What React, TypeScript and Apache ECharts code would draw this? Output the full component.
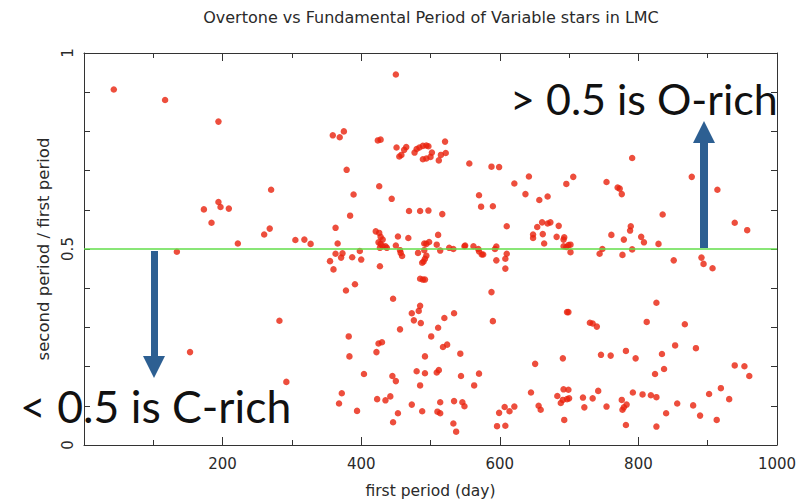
import React, { useEffect, useRef } from "react";
import * as echarts from "echarts";

const titleText = "Overtone vs Fundamental Period of Variable stars in LMC";
const xName = "first period (day)";
const yName = "second period / first period";
const xTickLabels = ["200", "400", "600", "800", "1000"];
const yTickLabels = ["0", "0.5", "1"];
const threshold = 0.5;
const noteUpper = "> 0.5 is O-rich";
const noteLower = "< 0.5 is C-rich";

// first period (day)
const firstPeriod = [
  43, 117, 194, 270, 194, 197, 173, 209, 184, 268, 260, 222, 305, 318, 327, 134, 282, 153, 292,
  450, 359, 369, 375, 424, 428, 451, 455, 458, 462, 465, 477, 480, 484, 489, 494, 497, 489, 494, 500, 502,
  512, 515, 522, 521, 556, 588, 599, 379, 426, 389, 444, 384, 469, 485, 497, 517, 621, 642, 637, 657,
  669, 570, 573, 590, 610, 363, 366, 421, 426, 453, 468, 511, 491, 498, 527, 533, 549, 562, 595, 648,
  654, 661, 669, 662, 664,
  363, 373, 371, 355, 360, 387, 398, 400, 378, 391, 428, 431, 425, 428, 431, 435, 437, 427, 427, 450,
  456, 457, 459, 482, 494, 491, 494, 492, 490, 488, 485, 489, 492, 509, 514, 446,
  550, 569, 570, 574, 576, 593, 610, 608, 595, 608, 588, 673, 648, 685, 682, 693, 692, 692, 696, 699,
  702, 702, 748, 744, 761,
  779, 788, 789, 804, 808, 791, 777, 829, 835, 851, 891, 894, 907, 939, 957,
  791, 706, 696, 754, 770, 773, 776, 877, 914,
  697, 699, 730, 734, 740, 826, 812, 867, 853, 883, 651, 691, 746, 760, 782, 796, 834, 837, 824, 939,
  953, 960, 645, 692, 699, 683, 691, 688, 697, 700, 656, 659, 693, 720, 722, 734, 742, 754, 776, 783,
  779, 777, 782, 792, 806, 818, 826, 826, 840, 856, 879, 889, 902, 919, 931, 913,
  590, 485, 483, 473, 476, 486, 520, 534, 511, 456, 501, 382, 425, 430, 422, 383, 492, 518, 524, 543,
  404, 445, 450, 480, 492, 509, 512, 485, 544, 570, 563, 372, 368, 394, 423, 435, 442, 453, 446, 473,
  488, 514, 510, 514, 534, 546, 549, 533, 537, 599, 607, 614, 621, 596, 608
];

// second period / first period
const periodRatio = [
  0.907, 0.88, 0.825, 0.651, 0.62, 0.607, 0.601, 0.603, 0.567, 0.552, 0.537, 0.514, 0.523, 0.524, 0.513, 0.493, 0.317, 0.237, 0.161,
  0.945, 0.79, 0.785, 0.8, 0.777, 0.779, 0.759, 0.736, 0.74, 0.753, 0.76, 0.746, 0.755, 0.759, 0.763, 0.764, 0.762, 0.729, 0.731, 0.735, 0.746,
  0.726, 0.74, 0.745, 0.774, 0.718, 0.71, 0.709, 0.702, 0.66, 0.639, 0.628, 0.585, 0.597, 0.597, 0.598, 0.589, 0.667, 0.685, 0.64, 0.625,
  0.634, 0.637, 0.608, 0.609, 0.558, 0.554, 0.514, 0.545, 0.541, 0.532, 0.528, 0.536, 0.514, 0.518, 0.503, 0.5, 0.507, 0.507, 0.506, 0.528,
  0.556, 0.568, 0.565, 0.538, 0.514,
  0.488, 0.489, 0.478, 0.469, 0.448, 0.479, 0.495, 0.473, 0.394, 0.41, 0.531, 0.524, 0.517, 0.513, 0.507, 0.507, 0.503, 0.503, 0.456, 0.509,
  0.497, 0.49, 0.482, 0.49, 0.513, 0.497, 0.483, 0.475, 0.468, 0.465, 0.424, 0.422, 0.422, 0.511, 0.496, 0.373,
  0.509, 0.5, 0.494, 0.486, 0.486, 0.5, 0.488, 0.475, 0.471, 0.45, 0.39, 0.568, 0.537, 0.559, 0.531, 0.53, 0.524, 0.507, 0.505, 0.51,
  0.511, 0.492, 0.5, 0.488, 0.536,
  0.524, 0.547, 0.558, 0.531, 0.517, 0.499, 0.485, 0.513, 0.588, 0.471, 0.478, 0.462, 0.451, 0.567, 0.548,
  0.732, 0.684, 0.666, 0.671, 0.657, 0.654, 0.64, 0.684, 0.651,
  0.339, 0.339, 0.312, 0.31, 0.302, 0.363, 0.314, 0.308, 0.254, 0.247, 0.207, 0.221, 0.23, 0.228, 0.24, 0.221, 0.232, 0.194, 0.181, 0.203,
  0.201, 0.176, 0.134, 0.142, 0.141, 0.125, 0.115, 0.107, 0.117, 0.119, 0.1, 0.09, 0.064, 0.121, 0.096, 0.119, 0.138, 0.098, 0.115, 0.103,
  0.096, 0.09, 0.051, 0.134, 0.129, 0.127, 0.122, 0.047, 0.081, 0.106, 0.101, 0.075, 0.13, 0.145, 0.117, 0.064,
  0.316, 0.355, 0.342, 0.336, 0.318, 0.311, 0.324, 0.336, 0.299, 0.295, 0.277, 0.277, 0.259, 0.262, 0.237, 0.226, 0.226, 0.25, 0.256, 0.233,
  0.181, 0.176, 0.163, 0.188, 0.183, 0.185, 0.191, 0.152, 0.176, 0.182, 0.152, 0.132, 0.106, 0.087, 0.117, 0.114, 0.124, 0.081, 0.058, 0.103,
  0.086, 0.109, 0.085, 0.081, 0.112, 0.109, 0.099, 0.055, 0.034, 0.082, 0.097, 0.086, 0.098, 0.048, 0.049
];

export default function App() {
  const ref = useRef<HTMLDivElement>(null);

  useEffect(() => {
    if (!ref.current) return;
    const chart = echarts.init(ref.current, null, { renderer: "svg" });
    const points = firstPeriod.map((x, i) => [x, periodRatio[i]]);
    const axisColor = "#333";
    const font = "'DejaVu Sans'";
    const labelStyle = { color: "#2a2a2a", fontFamily: font, fontSize: 15 };

    const arrowColor = "#2d5f92";

    chart.setOption({
      animation: false,
      backgroundColor: "#ffffff",
      grid: { left: 84, right: 30, top: 53, bottom: 58, containLabel: false },
      xAxis: [
        {
          type: "value",
          min: 0,
          max: 1000,
          interval: 200,
          position: "bottom",
          name: xName,
          nameLocation: "middle",
          nameGap: 38,
          nameTextStyle: { ...labelStyle, fontSize: 15.5 },
          axisLine: { show: true, onZero: false, lineStyle: { color: axisColor, width: 1 } },
          axisTick: { show: true, inside: true, length: 8, lineStyle: { color: axisColor } },
          minorTick: { show: true, splitNumber: 2, length: 5, lineStyle: { color: axisColor } },
          splitLine: { show: false },
          axisLabel: {
            ...labelStyle,
            margin: 11,
            formatter: (v: number) => (xTickLabels.includes(String(v)) ? String(v) : ""),
          },
        },
        {
          type: "value",
          min: 0,
          max: 1000,
          interval: 200,
          position: "top",
          axisLine: { show: true, onZero: false, lineStyle: { color: axisColor, width: 1 } },
          axisTick: { show: true, inside: true, length: 8, lineStyle: { color: axisColor } },
          minorTick: { show: true, splitNumber: 2, length: 5, lineStyle: { color: axisColor } },
          splitLine: { show: false },
          axisLabel: { show: false },
        },
      ],
      yAxis: [
        {
          type: "value",
          min: 0,
          max: 1,
          interval: 0.5,
          position: "left",
          name: yName,
          nameLocation: "middle",
          nameGap: 32,
          nameTextStyle: { ...labelStyle, fontSize: 16.5 },
          axisLine: { show: true, onZero: false, lineStyle: { color: axisColor, width: 1 } },
          axisTick: { show: true, inside: true, length: 6, lineStyle: { color: axisColor } },
          minorTick: { show: true, splitNumber: 5, length: 6, lineStyle: { color: axisColor } },
          splitLine: { show: false },
          axisLabel: {
            ...labelStyle,
            rotate: 90,
            margin: 9,
            formatter: (v: number) => {
              const s = String(v);
              return yTickLabels.includes(s) ? s : "";
            },
          },
        },
        {
          type: "value",
          min: 0,
          max: 1,
          interval: 0.5,
          position: "right",
          axisLine: { show: true, onZero: false, lineStyle: { color: axisColor, width: 1 } },
          axisTick: { show: true, inside: true, length: 6, lineStyle: { color: axisColor } },
          minorTick: { show: true, splitNumber: 5, length: 6, lineStyle: { color: axisColor } },
          splitLine: { show: false },
          axisLabel: { show: false },
        },
      ],
      series: [
        {
          type: "scatter",
          xAxisIndex: 0,
          yAxisIndex: 0,
          data: points,
          symbol: "circle",
          symbolSize: 6.5,
          itemStyle: { color: "#e8220c" },
          markLine: {
            silent: true,
            symbol: ["none", "none"],
            label: { show: false },
            lineStyle: { color: "#62de4a", width: 1.5, type: "solid" },
            data: [{ yAxis: threshold }],
          },
          z: 2,
        },
      ],
      graphic: [
        {
          type: "text",
          x: 431,
          y: 17,
          style: {
            text: titleText,
            fill: "#2a2a2a",
            fontFamily: font,
            fontSize: 16,
            textAlign: "center",
            textVerticalAlign: "middle",
          },
        },
        {
          type: "polygon",
          z: 10,
          shape: {
            points: [
              [700, 248], [700, 143], [693, 143], [704, 121], [715, 143], [708, 143], [708, 248],
            ],
          },
          style: { fill: arrowColor },
        },
        {
          type: "polygon",
          z: 10,
          shape: {
            points: [
              [151, 251], [158, 251], [158, 356], [165, 356], [154, 378], [143, 356], [151, 356],
            ],
          },
          style: { fill: arrowColor },
        },
        {
          type: "text",
          z: 11,
          x: 510,
          y: 98,
          style: {
            text: noteUpper,
            fill: "#111",
            fontFamily: "Lato",
            fontSize: 43,
            textAlign: "left",
            textVerticalAlign: "middle",
          },
        },
        {
          type: "text",
          z: 11,
          x: 20,
          y: 405,
          style: {
            text: noteLower,
            fill: "#111",
            fontFamily: "Lato",
            fontSize: 44.5,
            textAlign: "left",
            textVerticalAlign: "middle",
          },
        },
      ],
    });

    return () => chart.dispose();
  }, []);

  return (
    <div
      ref={ref}
      style={{ position: "fixed", left: 0, top: 0, width: 807, height: 504, background: "#fff" }}
    />
  );
}
